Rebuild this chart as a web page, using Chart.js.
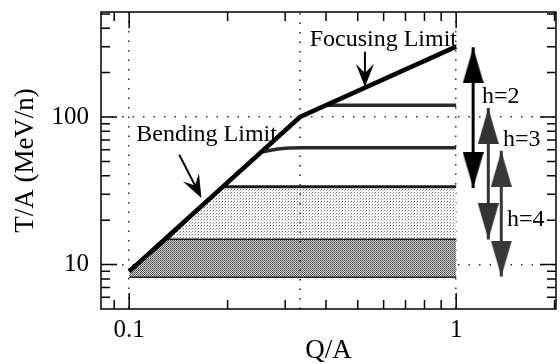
<!DOCTYPE html>
<html>
<head>
<meta charset="utf-8">
<script src="https://cdn.jsdelivr.net/npm/chart.js@4.4.1/dist/chart.umd.min.js"></script>
<style>
html, body { margin: 0; padding: 0; background: #fff; }
</style>
</head>
<body>
<canvas id="chart" width="560" height="364"></canvas>
<script>
// tick values and labelled ticks
const xTicks = [0.09, 0.1, 0.2, 0.3, 0.4, 0.5, 0.6, 0.7, 0.8, 0.9, 1, 2];
const yTicks = [6, 7, 8, 9, 10, 20, 30, 40, 50, 60, 70, 80, 90, 100, 200, 300, 400, 500];
const xLabels = [0.1, 1];
const yLabels = [10, 100];

// bending limit -> focusing limit
const limitQ = [0.1, 0.333, 1];
const limitT = [9, 100, 300];

// upper flat lines
const line120Q = [0.4, 1];
const line120T = [120, 120];
const line62Q = [0.255, 0.29, 0.34, 1];
const line62T = [58, 61, 62, 62];

// light band (15 .. 33.7)
const lightQ = [0.1308, 0.1935, 1];
const lightT = [15, 33.7, 33.7];
const lightBaseQ = [0.1308, 1];
const lightBaseT = [15, 15];

// dark band (8.3 .. 15)
const darkQ = [0.1, 0.1308, 1];
const darkT = [9, 15, 15];
const darkBaseQ = [0.1, 1];
const darkBaseT = [8.3, 8.3];

// dotted line at Q/A = 1/3
const thirdQ = [1 / 3, 1 / 3];
const thirdT = [5, 515];

// harmonic ranges
const harmNames = ['h=2', 'h=3', 'h=4'];
const harmQ = [1.127, 1.254, 1.374];
const harmLow = [33, 14.8, 8.3];
const harmHigh = [297, 115, 59];

const pts = (xs, ys) => xs.map((x, i) => ({ x: x, y: ys[i] }));

const serif = '"Liberation Serif", "Times New Roman", Times, serif';

const canvas = document.getElementById('chart');
const mainCtx = canvas.getContext('2d');

function makePattern(size, bg, dots) {
    const tile = document.createElement('canvas');
    tile.width = size;
    tile.height = size;
    const t = tile.getContext('2d');
    t.fillStyle = bg;
    t.fillRect(0, 0, size, size);
    dots.forEach(d => {
        t.fillStyle = d[2];
        t.fillRect(d[0], d[1], 1, 1);
    });
    return mainCtx.createPattern(tile, 'repeat');
}

const darkFill = makePattern(2, '#d0d0d0', [[0, 0, '#4a4a4a'], [1, 1, '#6a6a6a']]);
const lightFill = makePattern(3, '#ffffff', [[0, 0, '#707070'], [2, 1, '#b8b8b8']]);

// arrow heads as point images: tip sits at the image centre
function makeHead(w, h, color, up) {
    const c = document.createElement('canvas');
    c.width = w;
    c.height = h * 2;
    const t = c.getContext('2d');
    t.fillStyle = color;
    t.beginPath();
    if (up) {
        t.moveTo(w / 2, h);
        t.lineTo(w, h * 2);
        t.lineTo(0, h * 2);
    } else {
        t.moveTo(w / 2, h);
        t.lineTo(w, 0);
        t.lineTo(0, 0);
    }
    t.closePath();
    t.fill();
    return c;
}

const harmColors = ['#000000', '#333333', '#383838'];
const harmSets = harmNames.map((name, i) => ({
    label: name,
    data: [{ x: harmQ[i], y: harmLow[i] }, { x: harmQ[i], y: harmHigh[i] }],
    showLine: true,
    borderColor: harmColors[i],
    borderWidth: 3,
    pointStyle: [makeHead(21, 36, harmColors[i], false), makeHead(21, 36, harmColors[i], true)],
    pointRadius: 10,
    fill: false
}));

const annotations = {
    texts: [
        { text: 'Bending Limit', x: 0.1051, y: 75.8 },
        { text: 'Focusing Limit', x: 0.3565, y: 334 },
        { text: 'h=2', x: 1.20, y: 137 },
        { text: 'h=3', x: 1.39, y: 70 },
        { text: 'h=4', x: 1.43, y: 20 }
    ],
    arrows: [
        { from: [0.1423, 55.5], to: [0.1663, 28.3] },
        { from: [0.526, 277], to: [0.526, 160] }
    ]
};

const frameTicks = {
    id: 'frameTicks',
    afterDatasetsDraw(chart) {
        const { ctx, chartArea: a, scales: { x, y } } = chart;
        ctx.save();
        ctx.strokeStyle = '#000';
        ctx.lineWidth = 1.5;
        ctx.strokeRect(a.left, a.top, a.right - a.left, a.bottom - a.top);
        ctx.beginPath();
        xTicks.forEach(v => {
            const px = x.getPixelForValue(v);
            const len = xLabels.includes(v) ? 16 : 9;
            ctx.moveTo(px, a.bottom); ctx.lineTo(px, a.bottom - len);
            ctx.moveTo(px, a.top); ctx.lineTo(px, a.top + len);
        });
        yTicks.forEach(v => {
            const py = y.getPixelForValue(v);
            const len = yLabels.includes(v) ? 16 : 9;
            ctx.moveTo(a.left, py); ctx.lineTo(a.left + len, py);
            ctx.moveTo(a.right, py); ctx.lineTo(a.right - len, py);
        });
        ctx.stroke();

        // labels
        ctx.fillStyle = '#000';
        ctx.textAlign = 'left';
        ctx.textBaseline = 'middle';
        ctx.font = '24px ' + serif;
        annotations.texts.forEach(t => {
            ctx.fillText(t.text, x.getPixelForValue(t.x), y.getPixelForValue(t.y));
        });

        // callout arrows
        annotations.arrows.forEach(ar => {
            const fx = x.getPixelForValue(ar.from[0]), fy = y.getPixelForValue(ar.from[1]);
            const tx = x.getPixelForValue(ar.to[0]), ty = y.getPixelForValue(ar.to[1]);
            const len = Math.hypot(tx - fx, ty - fy);
            const dx = (tx - fx) / len, dy = (ty - fy) / len;
            const L = 23, W = 9, N = 9;
            ctx.lineWidth = 2;
            ctx.beginPath();
            ctx.moveTo(fx, fy);
            ctx.lineTo(tx - dx * N, ty - dy * N);
            ctx.stroke();
            ctx.beginPath();
            ctx.moveTo(tx, ty);
            ctx.lineTo(tx - dx * L - dy * W, ty - dy * L + dx * W);
            ctx.lineTo(tx - dx * (L - N), ty - dy * (L - N));
            ctx.lineTo(tx - dx * L + dy * W, ty - dy * L - dx * W);
            ctx.closePath();
            ctx.fill();
        });
        ctx.restore();
    }
};

new Chart(mainCtx, {
    type: 'scatter',
    data: {
        datasets: [
            ...harmSets,
            {
                label: 'limit',
                data: pts(limitQ, limitT),
                showLine: true,
                borderColor: '#000',
                borderWidth: 4.5,
                pointRadius: 0
            },
            {
                label: 'T120',
                data: pts(line120Q, line120T),
                showLine: true,
                borderColor: '#2a2a2a',
                borderWidth: 3.5,
                pointRadius: 0
            },
            {
                label: 'T62',
                data: pts(line62Q, line62T),
                showLine: true,
                borderColor: '#2a2a2a',
                borderWidth: 3.5,
                cubicInterpolationMode: 'monotone',
                pointRadius: 0
            },
            {
                label: 'third',
                data: pts(thirdQ, thirdT),
                showLine: true,
                borderColor: '#222',
                borderWidth: 1.5,
                borderDash: [1.5, 8],
                pointRadius: 0
            },
            {
                label: 'light',
                data: pts(lightQ, lightT),
                showLine: true,
                borderColor: '#1a1a1a',
                borderWidth: 3,
                backgroundColor: lightFill,
                fill: '+1',
                pointRadius: 0
            },
            {
                label: 'lightBase',
                data: pts(lightBaseQ, lightBaseT),
                showLine: true,
                borderWidth: 0,
                pointRadius: 0
            },
            {
                label: 'dark',
                data: pts(darkQ, darkT),
                showLine: true,
                borderColor: '#1a1a1a',
                borderWidth: 3,
                backgroundColor: darkFill,
                fill: '+1',
                pointRadius: 0
            },
            {
                label: 'darkBase',
                data: pts(darkBaseQ, darkBaseT),
                showLine: true,
                borderColor: '#2a2a2a',
                borderWidth: 3,
                pointRadius: 0
            }
        ]
    },
    options: {
        responsive: false,
        animation: false,
        devicePixelRatio: 1,
        layout: { autoPadding: false, padding: { top: 12, right: 4, left: 0, bottom: 0 } },
        plugins: { legend: { display: false }, tooltip: { enabled: false } },
        scales: {
            x: {
                type: 'logarithmic',
                min: 0.082,
                max: 2.02,
                afterBuildTicks: s => { s.ticks = xTicks.map(v => ({ value: v })); },
                afterFit: s => {
                    s.height = 55;
                    s.paddingLeft = 0;
                    s.paddingRight = 0;
                },
                ticks: {
                    autoSkip: false,
                    maxRotation: 0,
                    padding: 6,
                    color: '#000',
                    font: { family: serif, size: 25 },
                    callback: v => xLabels.includes(v) ? String(v) : ''
                },
                grid: {
                    drawTicks: false,
                    lineWidth: 1.5,
                    color: c => (c.tick && xLabels.includes(c.tick.value)) ? '#333' : 'rgba(0,0,0,0)'
                },
                border: { display: false, dash: [1.5, 8] },
                title: {
                    display: true,
                    text: 'Q/A',
                    color: '#000',
                    font: { family: serif, size: 27, lineHeight: 1 },
                    padding: { top: 0, bottom: 0 }
                }
            },
            y: {
                type: 'logarithmic',
                min: 5,
                max: 515,
                afterBuildTicks: s => { s.ticks = yTicks.map(v => ({ value: v })); },
                afterFit: s => {
                    s.width = 101;
                    s.paddingTop = 0;
                    s.paddingBottom = 0;
                },
                ticks: {
                    autoSkip: false,
                    padding: 12,
                    color: '#000',
                    font: { family: serif, size: 25 },
                    callback: v => yLabels.includes(v) ? String(v) : ''
                },
                grid: {
                    drawTicks: false,
                    lineWidth: 1.5,
                    color: c => (c.tick && yLabels.includes(c.tick.value)) ? '#333' : 'rgba(0,0,0,0)'
                },
                border: { display: false, dash: [1.5, 9] },
                title: {
                    display: true,
                    text: 'T/A (MeV/n)',
                    color: '#000',
                    font: { family: serif, size: 27, lineHeight: 1.2 },
                    padding: { top: 10, bottom: 0 }
                }
            }
        }
    },
    plugins: [frameTicks]
});
</script>
</body>
</html>
